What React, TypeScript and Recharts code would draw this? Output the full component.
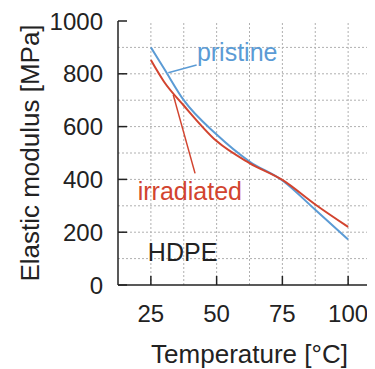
import { LineChart, Line, XAxis, YAxis, ReferenceLine, ReferenceDot, Label } from 'recharts';

const temps = [25, 30, 37.5, 50, 62.5, 75, 87.5, 100];
const pristine = [900, 820, 700, 570, 468, 396, 285, 172];
const irradiated = [852, 770, 680, 545, 462, 398, 305, 220];
const xGridTicks = [25, 37.5, 50, 62.5, 75, 87.5, 100];
const yGridTicks = [100, 200, 300, 400, 500, 600, 700, 800, 900];
const xMajor = [25, 50, 75, 100];
const yTicks = [0, 200, 400, 600, 800, 1000];

const data = temps.map((t, i) => ({ t, pristine: pristine[i], irradiated: irradiated[i] }));

const FONT = '"Liberation Sans", Arial, sans-serif';
const BLUE = '#5b9bd5';
const RED = '#d2442f';
const INK = '#222';
const GRID = '#b0b0b0';

const BottomTick = (props: any) => {
  const { x, y, payload } = props;
  return (
    <g>
      <line x1={x} x2={x} y1={y} y2={y - 9} stroke={INK} strokeWidth={1.5} />
      <text x={x} y={y + 28} textAnchor="middle" dominantBaseline="central" fontSize={24} fill={INK} fontFamily={FONT}>
        {payload.value}
      </text>
    </g>
  );
};

const TopTick = (props: any) => {
  const { x, y } = props;
  return <line x1={x} x2={x} y1={y} y2={y + 9} stroke={INK} strokeWidth={1.5} />;
};

const LeftTick = (props: any) => {
  const { x, y, payload } = props;
  return (
    <g>
      <line x1={x} x2={x + 9} y1={y} y2={y} stroke={INK} strokeWidth={1.5} />
      <text x={x - 15} y={y} textAnchor="end" dominantBaseline="central" fontSize={24} fill={INK} fontFamily={FONT}>
        {payload.value}
      </text>
    </g>
  );
};

const RightTick = (props: any) => {
  const { x, y } = props;
  return <line x1={x} x2={x - 9} y1={y} y2={y} stroke={INK} strokeWidth={1.5} />;
};

const note = (text: string, color: string) => (props: any) => (
  <text x={props.cx} y={props.cy} dominantBaseline="central" fontSize={25} fill={color} fontFamily={FONT}>
    {text}
  </text>
);

export default function App() {
  return (
    <div style={{ width: 367, height: 361, overflow: 'hidden' }}>
      <LineChart width={373} height={361} data={data} margin={{ top: 13, right: 0, bottom: 0, left: 0 }}>
        {yGridTicks.map((v) => (
          <ReferenceLine key={'h' + v} y={v} stroke={GRID} strokeDasharray="2 2" />
        ))}
        {xGridTicks.map((v) => (
          <ReferenceLine key={'v' + v} x={v} stroke={GRID} strokeDasharray="2 2" />
        ))}
        <XAxis
          dataKey="t"
          type="number"
          domain={[12.5, 112.5]}
          ticks={xMajor}
          tick={<BottomTick />}
          tickLine={false}
          tickSize={0}
          tickMargin={0}
          height={84}
          axisLine={{ stroke: INK, strokeWidth: 1.5 }}
          interval={0}
        >
          <Label value="Temperature [°C]" position="insideBottom" offset={6} fontSize={26} fill={INK} fontFamily={FONT} />
        </XAxis>
        <XAxis
          xAxisId="top"
          orientation="top"
          dataKey="t"
          type="number"
          domain={[12.5, 112.5]}
          ticks={xMajor}
          tick={<TopTick />}
          tickLine={false}
          tickSize={0}
          tickMargin={0}
          height={0}
          axisLine={{ stroke: INK, strokeWidth: 1.5 }}
          interval={0}
        />
        <YAxis
          type="number"
          domain={[0, 1000]}
          ticks={yTicks}
          tick={<LeftTick />}
          tickLine={false}
          tickSize={0}
          tickMargin={0}
          width={110}
          axisLine={{ stroke: INK, strokeWidth: 1.5 }}
          interval={0}
        >
          <Label
            value="Elastic modulus [MPa]"
            angle={-90}
            position="insideLeft"
            offset={22}
            style={{ textAnchor: 'middle' }}
            fontSize={26}
            fill={INK}
            fontFamily={FONT}
          />
        </YAxis>
        <YAxis
          yAxisId="right"
          orientation="right"
          type="number"
          domain={[0, 1000]}
          ticks={yTicks}
          tick={<RightTick />}
          tickLine={false}
          tickSize={0}
          tickMargin={0}
          width={0}
          axisLine={{ stroke: INK, strokeWidth: 1.5 }}
          interval={0}
        />
        <Line type="monotone" dataKey="pristine" stroke={BLUE} strokeWidth={2} dot={false} isAnimationActive={false} />
        <Line type="monotone" dataKey="irradiated" stroke={RED} strokeWidth={2} dot={false} isAnimationActive={false} />
        <ReferenceLine segment={[{ x: 31.6, y: 804 }, { x: 42.4, y: 833 }]} stroke={BLUE} strokeWidth={1.5} />
        <ReferenceLine segment={[{ x: 33.5, y: 720 }, { x: 41.8, y: 423 }]} stroke={RED} strokeWidth={1.5} />
        <ReferenceDot x={42.5} y={883} r={0} shape={note('pristine', BLUE)} />
        <ReferenceDot x={20} y={356} r={0} shape={note('irradiated', RED)} />
        <ReferenceDot x={23.85} y={126} r={0} shape={note('HDPE', INK)} />
      </LineChart>
    </div>
  );
}
